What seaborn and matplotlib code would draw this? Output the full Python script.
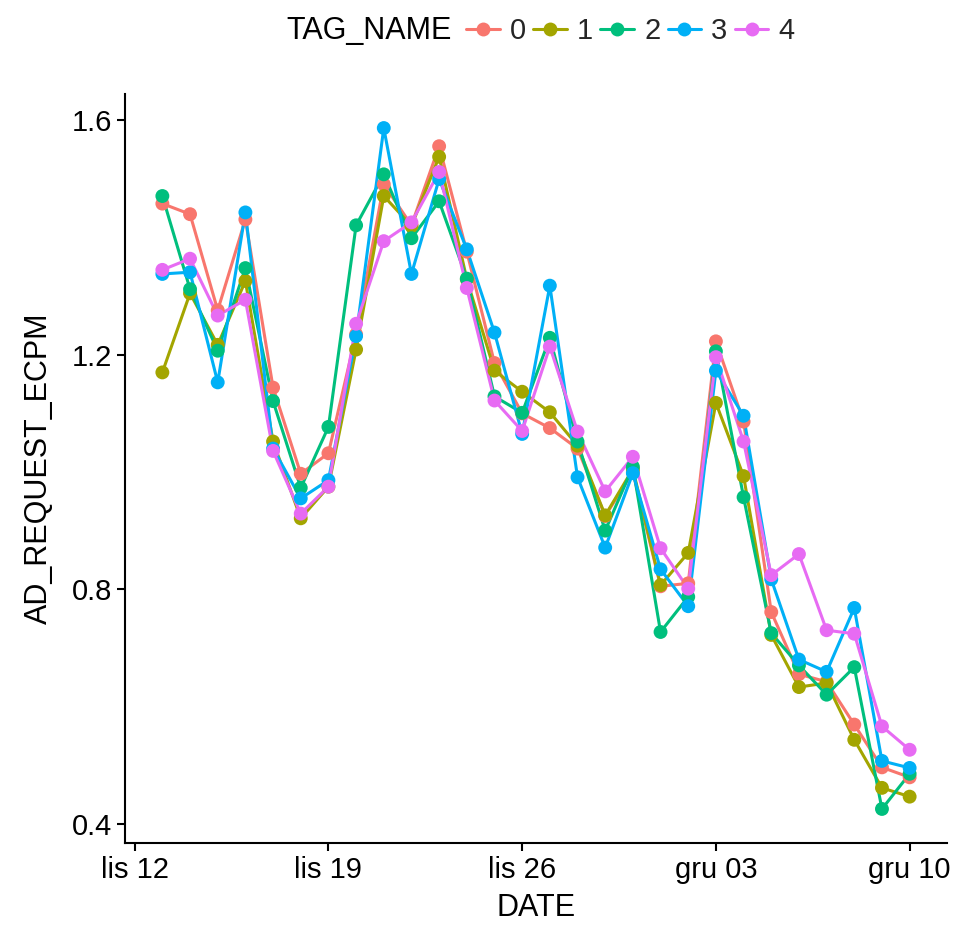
import numpy as np
import pandas as pd
import matplotlib
matplotlib.use("Agg")
import matplotlib.pyplot as plt
import matplotlib.dates as mdates
from matplotlib import font_manager
from matplotlib.lines import Line2D
import seaborn as sns

# Daily eCPM per ad tag
dates = pd.date_range("2018-11-13", "2018-12-10", freq="D")
tag_0 = [1.458, 1.440, 1.276, 1.431, 1.144, 0.997, 1.032, 1.235, 1.491, 1.421,
         1.556, 1.376, 1.186, 1.100, 1.075, 1.040, 0.925, 1.000, 0.805, 0.810,
         1.223, 1.086, 0.761, 0.655, 0.642, 0.569, 0.496, 0.479]
tag_1 = [1.170, 1.305, 1.217, 1.326, 1.052, 0.921, 0.975, 1.209, 1.471, 1.420,
         1.538, 1.329, 1.173, 1.137, 1.102, 1.045, 0.926, 1.005, 0.807, 0.862,
         1.118, 0.993, 0.722, 0.633, 0.640, 0.543, 0.461, 0.446]
tag_2 = [1.471, 1.312, 1.207, 1.348, 1.121, 0.973, 1.077, 1.421, 1.508, 1.399,
         1.462, 1.330, 1.129, 1.101, 1.229, 1.052, 0.900, 1.009, 0.727, 0.787,
         1.206, 0.957, 0.725, 0.670, 0.620, 0.667, 0.425, 0.485]
tag_3 = [1.338, 1.341, 1.153, 1.443, 1.040, 0.955, 0.986, 1.232, 1.587, 1.338,
         1.500, 1.380, 1.238, 1.065, 1.318, 0.991, 0.871, 0.998, 0.834, 0.771,
         1.173, 1.096, 0.817, 0.680, 0.659, 0.768, 0.507, 0.495]
tag_4 = [1.345, 1.364, 1.267, 1.294, 1.036, 0.929, 0.975, 1.253, 1.394, 1.426,
         1.512, 1.314, 1.122, 1.070, 1.214, 1.069, 0.967, 1.026, 0.870, 0.801,
         1.196, 1.052, 0.824, 0.860, 0.730, 0.724, 0.566, 0.526]

tag_names = ["0", "1", "2", "3", "4"]
palette = ["#F8766D", "#A3A500", "#00BF7D", "#00B0F6", "#E76BF3"]

xtick_dates = pd.to_datetime(["2018-11-12", "2018-11-19", "2018-11-26",
                              "2018-12-03", "2018-12-10"])
xtick_labels = ["lis 12", "lis 19", "lis 26", "gru 03", "gru 10"]
ytick_values = [0.4, 0.8, 1.2, 1.6]

series = [tag_0, tag_1, tag_2, tag_3, tag_4]
df = pd.DataFrame({
    "DATE": np.tile(dates, len(tag_names)),
    "TAG_NAME": np.repeat(tag_names, len(dates)),
    "AD_REQUEST_ECPM": np.concatenate(series),
})

sns.set_theme(style="ticks")

# prefer a narrow sans face; fall back to the regular one
installed = {f.name for f in font_manager.fontManager.ttflist}
if "Liberation Sans Narrow" in installed:
    plt.rcParams["font.family"] = ["Liberation Sans Narrow", "DejaVu Sans"]
    fs_tick, fs_title = 25, 26
else:
    plt.rcParams["font.family"] = ["Liberation Sans", "DejaVu Sans"]
    fs_tick, fs_title = 21, 22

W, H = 965, 926
fig = plt.figure(figsize=(W / 100, H / 100), dpi=100)
ax = fig.add_axes([125 / W, 1 - 843 / H, (947 - 125) / W, (843 - 94) / H])

# lines first, then points on top of all lines
sns.lineplot(data=df, x="DATE", y="AD_REQUEST_ECPM", hue="TAG_NAME",
             hue_order=tag_names, palette=palette, linewidth=2.2,
             estimator=None, legend=False, ax=ax)
sns.scatterplot(data=df, x="DATE", y="AD_REQUEST_ECPM", hue="TAG_NAME",
                hue_order=tag_names, palette=palette, s=100, linewidth=0,
                legend=False, ax=ax, zorder=3)

# 5% padding around the data range on both axes
y_all = df["AD_REQUEST_ECPM"]
yr = y_all.max() - y_all.min()
ax.set_ylim(y_all.min() - 0.05 * yr, y_all.max() + 0.05 * yr)
x0, x1 = mdates.date2num(dates[0]), mdates.date2num(dates[-1])
xr = x1 - x0
ax.set_xlim(x0 - 0.05 * xr, x1 + 0.05 * xr)

ax.set_xticks(mdates.date2num(xtick_dates))
ax.set_xticklabels(xtick_labels)
ax.set_yticks(ytick_values)
ax.set_yticklabels([f"{v:.1f}" for v in ytick_values])

for side in ("top", "right"):
    ax.spines[side].set_visible(False)
for side in ("left", "bottom"):
    ax.spines[side].set_color("black")
    ax.spines[side].set_linewidth(1.5)
ax.tick_params(axis="both", colors="black", labelsize=fs_tick, length=6,
               width=1.5, direction="out", pad=3)
ax.set_xlabel("DATE", fontsize=fs_title, color="black", labelpad=7)
ax.set_ylabel("AD_REQUEST_ECPM", fontsize=fs_title, color="black",
              labelpad=13)

# legend across the top
handles = [Line2D([0], [0], color=c, linewidth=2.2, marker="o",
                  markersize=10, markeredgewidth=0) for c in palette]
fig.legend(handles, tag_names, loc="center left",
           bbox_to_anchor=(466 / W, 1 - 31 / H), ncol=5, frameon=False,
           fontsize=fs_tick, handlelength=1.15, handletextpad=0.35,
           columnspacing=0.25, borderpad=0, borderaxespad=0)
fig.text(452 / W, 1 - 31 / H, "TAG_NAME", ha="right", va="center",
         fontsize=fs_title, color="black")

fig.savefig("out.png", dpi=100)
